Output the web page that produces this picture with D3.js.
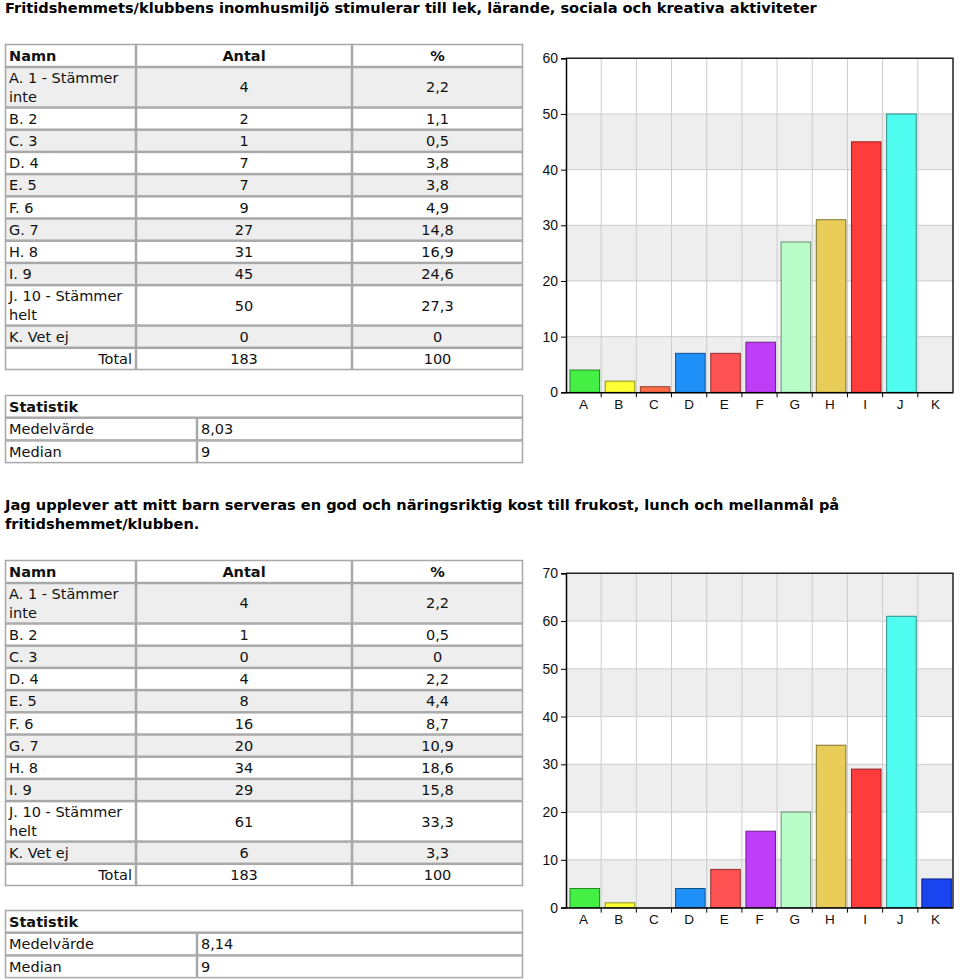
<!DOCTYPE html>
<html>
<head>
<meta charset="utf-8">
<script src="https://cdn.jsdelivr.net/npm/d3@7"></script>
<style>
  html, body { margin: 0; padding: 0; background: #fff; }
  svg { display: block; }
</style>
</head>
<body>
<svg id="page" width="960" height="980"></svg>
<script>
// ---------------- DATA ----------------
const categories = ["A", "B", "C", "D", "E", "F", "G", "H", "I", "J", "K"];
const rowNames = ["A. 1 - Stämmer inte", "B. 2", "C. 3", "D. 4", "E. 5", "F. 6", "G. 7", "H. 8", "I. 9", "J. 10 - Stämmer helt", "K. Vet ej"];
const barColors = ["#44f044", "#ffff33", "#ff6a48", "#1e90f8", "#ff5252", "#bf3cf8", "#b8fcc8", "#e8cc58", "#ff3c3c", "#50fcf0", "#1a44f0"];

const title1 = "Fritidshemmets/klubbens inomhusmiljö stimulerar till lek, lärande, sociala och kreativa aktiviteter";
const counts1 = [4, 2, 1, 7, 7, 9, 27, 31, 45, 50, 0];
const pct1 = ["2,2", "1,1", "0,5", "3,8", "3,8", "4,9", "14,8", "16,9", "24,6", "27,3", "0"];
const total1 = ["183", "100"];
const stats1 = ["8,03", "9"];
const yTicks1 = [0, 10, 20, 30, 40, 50, 60];

const title2 = "Jag upplever att mitt barn serveras en god och näringsriktig kost till frukost, lunch och mellanmål på fritidshemmet/klubben.";
const counts2 = [4, 1, 0, 4, 8, 16, 20, 34, 29, 61, 6];
const pct2 = ["2,2", "0,5", "0", "2,2", "4,4", "8,7", "10,9", "18,6", "15,8", "33,3", "3,3"];
const total2 = ["183", "100"];
const stats2 = ["8,14", "9"];
const yTicks2 = [0, 10, 20, 30, 40, 50, 60, 70];

const tableHeaders = ["Namn", "Antal", "%"];
const statLabels = ["Medelvärde", "Median"];
const statHeader = "Statistik";
const totalLabel = "Total";

// ---------------- LAYOUT ----------------
const svg = d3.select("#page");
const FONT = "'DejaVu Sans', Verdana, sans-serif";
const AXFONT = "'Liberation Sans', Arial, sans-serif";
const colX = [5, 136, 352, 523];
const statColX = [5, 197, 523];
const border = "#a8a8a8";
const TFS = 14.5;

function wrapWords(text, maxW, fontSize, weight, family) {
  const tmp = svg.append("text").attr("font-size", fontSize).attr("font-weight", weight).attr("font-family", family);
  const words = text.split(" ");
  const lines = [];
  let cur = "";
  words.forEach(w => {
    const test = cur ? cur + " " + w : w;
    tmp.text(test);
    if (tmp.node().getComputedTextLength() > maxW && cur) { lines.push(cur); cur = w; }
    else cur = test;
  });
  if (cur) lines.push(cur);
  tmp.remove();
  return lines;
}

function heading(lines, y) {
  const t = svg.append("text").attr("x", 5).attr("y", y)
    .attr("font-family", FONT).attr("font-weight", "bold").attr("font-size", 14.6).attr("fill", "#000");
  lines.forEach((l, i) => t.append("tspan").attr("x", 5).attr("dy", i === 0 ? 0 : 18.5).text(l));
}

function cell(g, x0, x1, y0, y1, fill) {
  g.append("rect").attr("x", x0 + 0.5).attr("y", y0 + 0.5).attr("width", x1 - x0 - 1).attr("height", y1 - y0 - 1)
    .attr("fill", fill).attr("stroke", border).attr("stroke-width", 1.5);
}

function cellText(g, lines, x, yc, anchor, bold) {
  const lh = 18.5;
  const t = g.append("text").attr("font-family", FONT).attr("font-size", TFS).attr("fill", "#111")
    .attr("font-weight", bold ? "bold" : "normal").attr("text-anchor", anchor);
  const start = yc - (lines.length - 1) * lh / 2 + 5.2;
  lines.forEach((l, i) => t.append("tspan").attr("x", x).attr("y", start + i * lh).text(l));
}

function drawTable(top, counts, pct, total) {
  const g = svg.append("g");
  const hH = 23, single = 22.2, dbl = 40.5;
  cell(g, colX[0], colX[1], top, top + hH, "#fff");
  cell(g, colX[1], colX[2], top, top + hH, "#fff");
  cell(g, colX[2], colX[3], top, top + hH, "#fff");
  cellText(g, [tableHeaders[0]], colX[0] + 4, top + hH / 2, "start", true);
  cellText(g, [tableHeaders[1]], (colX[1] + colX[2]) / 2, top + hH / 2, "middle", true);
  cellText(g, [tableHeaders[2]], (colX[2] + colX[3]) / 2, top + hH / 2, "middle", true);
  let y = top + hH;
  rowNames.forEach((name, i) => {
    const lines = wrapWords(name, colX[1] - colX[0] - 8, TFS, "normal", FONT);
    const h = lines.length > 1 ? dbl : single;
    const fill = i % 2 === 0 ? "#eeeeee" : "#ffffff";
    for (let c = 0; c < 3; c++) cell(g, colX[c], colX[c + 1], y, y + h, fill);
    cellText(g, lines, colX[0] + 4, y + h / 2, "start", false);
    cellText(g, [String(counts[i])], (colX[1] + colX[2]) / 2, y + h / 2, "middle", false);
    cellText(g, [pct[i]], (colX[2] + colX[3]) / 2, y + h / 2, "middle", false);
    y += h;
  });
  for (let c = 0; c < 3; c++) cell(g, colX[c], colX[c + 1], y, y + single, "#fff");
  cellText(g, [totalLabel], colX[1] - 4, y + single / 2, "end", false);
  cellText(g, [total[0]], (colX[1] + colX[2]) / 2, y + single / 2, "middle", false);
  cellText(g, [total[1]], (colX[2] + colX[3]) / 2, y + single / 2, "middle", false);
  return y + single;
}

function drawStats(top, stats) {
  const g = svg.append("g");
  const h = 22.7;
  cell(g, statColX[0], statColX[2], top, top + h, "#fff");
  cellText(g, [statHeader], statColX[0] + 4, top + h / 2, "start", true);
  statLabels.forEach((lab, i) => {
    const y = top + h * (i + 1);
    cell(g, statColX[0], statColX[1], y, y + h, "#fff");
    cell(g, statColX[1], statColX[2], y, y + h, "#fff");
    cellText(g, [lab], statColX[0] + 4, y + h / 2, "start", false);
    cellText(g, [stats[i]], statColX[1] + 4, y + h / 2, "start", false);
  });
}

function drawChart(yTop, yBottom, counts, ticks) {
  const g = svg.append("g");
  const x = d3.scaleBand().domain(categories).range([566, 953]).padding(0);
  const y = d3.scaleLinear().domain([0, d3.max(ticks)]).range([yBottom, yTop]);
  const bw = x.bandwidth();
  ticks.slice(0, -1).forEach((t, i) => {
    g.append("rect").attr("x", x.range()[0]).attr("width", x.range()[1] - x.range()[0])
      .attr("y", y(ticks[i + 1])).attr("height", y(t) - y(ticks[i + 1]))
      .attr("fill", (t / 10) % 2 === 0 ? "#eeeeee" : "#ffffff");
  });
  g.append("g").selectAll("line").data(ticks).join("line")
    .attr("x1", x.range()[0]).attr("x2", x.range()[1]).attr("y1", d => y(d)).attr("y2", d => y(d))
    .attr("stroke", "#cccccc").attr("stroke-width", 1);
  g.append("g").selectAll("line").data(categories.slice(1)).join("line")
    .attr("x1", d => x(d)).attr("x2", d => x(d)).attr("y1", yTop).attr("y2", yBottom)
    .attr("stroke", "#cccccc").attr("stroke-width", 1);
  g.append("g").selectAll("rect").data(categories).join("rect")
    .attr("x", (d) => x(d) + bw * 0.1 + 0.5)
    .attr("width", bw * 0.84)
    .attr("y", (d, i) => y(counts[i]))
    .attr("height", (d, i) => Math.max(0, y(0) - y(counts[i])))
    .attr("fill", (d, i) => barColors[i])
    .attr("stroke", (d, i) => d3.color(barColors[i]).darker(1.6))
    .attr("stroke-width", 1)
    .attr("display", (d, i) => counts[i] > 0 ? null : "none");
  g.append("line").attr("x1", x.range()[0]).attr("x2", x.range()[1] + 0.5).attr("y1", yTop).attr("y2", yTop)
    .attr("stroke", "#222").attr("stroke-width", 1.5);
  g.append("line").attr("x1", x.range()[1]).attr("x2", x.range()[1]).attr("y1", yTop).attr("y2", yBottom)
    .attr("stroke", "#222").attr("stroke-width", 1.5);
  const yAxis = d3.axisLeft(y).tickValues(ticks).tickSize(5).tickPadding(3).tickFormat(d3.format("d"));
  const ya = g.append("g").attr("transform", `translate(${x.range()[0]},0)`).call(yAxis);
  ya.select(".domain").attr("stroke", "#000").attr("stroke-width", 1.5);
  ya.selectAll(".tick line").attr("stroke", "#000");
  ya.selectAll("text").attr("font-family", AXFONT).attr("font-size", 14).attr("fill", "#111");

  const xAxis = d3.axisBottom(x).tickSize(0).tickPadding(7);
  const xa = g.append("g").attr("transform", `translate(0,${yBottom})`).call(xAxis);
  xa.select(".domain").attr("stroke", "#000").attr("stroke-width", 1.5);
  xa.selectAll("text").attr("font-family", AXFONT).attr("font-size", 13.5).attr("fill", "#111");
  g.append("g").selectAll("line").data(categories.slice(1)).join("line")
    .attr("x1", d => x(d)).attr("x2", d => x(d)).attr("y1", yBottom).attr("y2", yBottom + 5)
    .attr("stroke", "#000").attr("stroke-width", 1);
}

// ---------------- RENDER ----------------
heading([title1], 13);
drawTable(44, counts1, pct1, total1);
drawStats(395, stats1);
drawChart(58.3, 392.3, counts1, yTicks1);

heading(wrapWords(title2, 845, 14.6, "bold", FONT), 510);
drawTable(560, counts2, pct2, total2);
drawStats(910, stats2);
drawChart(573.3, 907.6, counts2, yTicks2);
</script>
</body>
</html>
